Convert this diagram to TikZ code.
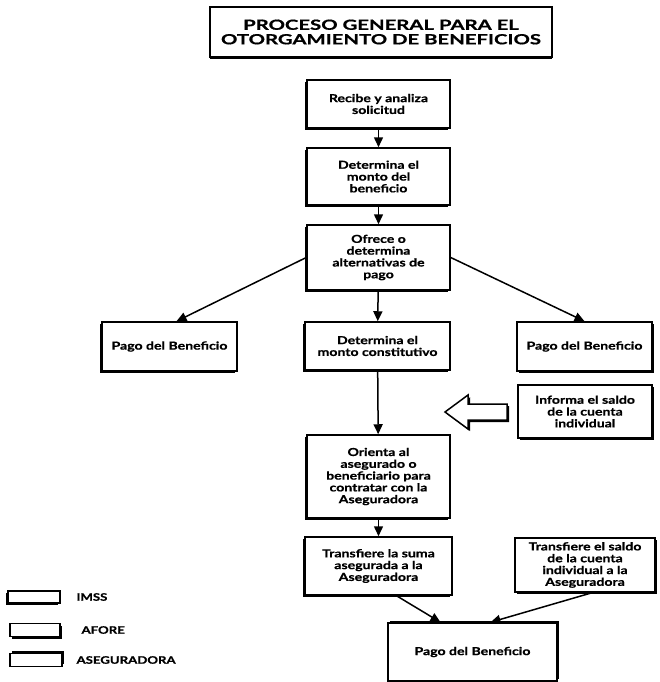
\documentclass[tikz,border=0pt]{standalone}
\usepackage{fontspec}
\setmainfont{Lato}
\newfontfamily\boxfont{Lato}[FakeStretch=1.28, FakeBold=0.8]
\newfontfamily\titlefont{Lato}[FakeStretch=1.45, FakeBold=0.8]
\usetikzlibrary{arrows.meta,shadows,calc}
\begin{document}
\begin{tikzpicture}[x=1pt,y=-1pt,
  box/.style={draw, line width=1.5pt, fill=white, align=center, inner sep=1pt,
    font=\boxfont\bfseries\fontsize{11}{11.8}\selectfont},
  imss/.style={box, drop shadow={shadow xshift=-2.4pt, shadow yshift=-2.4pt, opacity=1, fill=black}},
  afore/.style={box, drop shadow={shadow xshift=2.4pt, shadow yshift=-2.4pt, opacity=1, fill=black}},
  aseg/.style={box, drop shadow={shadow xshift=2.4pt, shadow yshift=2.4pt, opacity=1, fill=black}},
  arr/.style={-{Triangle[length=10pt,width=9pt]}, line width=1.5pt},
  legtext/.style={anchor=west, font=\boxfont\bfseries\fontsize{10.3}{10.3}\selectfont},
]
\useasboundingbox (0,0) rectangle (660,682);

% title
\node[draw, line width=1.7pt, fill=white, align=center, minimum width=342pt, minimum height=50pt,
  inner sep=0pt, font=\titlefont\bfseries\fontsize{14}{14.5}\selectfont,
  drop shadow={shadow xshift=0pt, shadow yshift=-2pt, opacity=1, fill=black}]
  (title) at (381,32) {PROCESO GENERAL PARA EL\\OTORGAMIENTO DE BENEFICIOS};

% main column
\node[imss, minimum width=143pt, minimum height=48pt] (recibe) at (378.5,104) {Recibe y analiza\\solicitud};
\node[imss, minimum width=143pt, minimum height=57pt] (determina) at (378.5,176.5) {Determina el\\monto del\\beneficio};
\node[imss, minimum width=143pt, minimum height=65pt] (ofrece) at (378.5,257.5) {Ofrece o\\determina\\alternativas de\\pago};
\node[imss, minimum width=135pt, minimum height=49pt] (pagoL) at (169.5,346.5) {Pago del Beneficio};
\node[imss, minimum width=145pt, minimum height=48pt] (constit) at (377.5,346) {Determina el\\monto constitutivo};
\node[afore, minimum width=135pt, minimum height=49pt] (pagoR) at (584.5,346.5) {Pago del Beneficio};
\node[afore, minimum width=134pt, minimum height=53pt] (informa) at (585,411.5) {Informa el saldo\\de la cuenta\\individual};
\node[imss, minimum width=143pt, minimum height=83pt] (orienta) at (378.5,476.5) {Orienta al\\asegurado o\\beneficiario para\\contratar con la\\Aseguradora};
\node[imss, minimum width=147pt, minimum height=58pt] (transA) at (378.5,566) {Transfiere la suma\\asegurada a la\\Aseguradora};
\node[afore, minimum width=140pt, minimum height=54pt] (transB) at (585,565) {Transfiere el saldo\\de la cuenta\\individual a la\\Aseguradora};
\node[aseg, minimum width=169pt, minimum height=58pt] (pagoB) at (472.5,652) {Pago del Beneficio};

% block arrow
\draw[line width=1.5pt, fill=white, drop shadow={shadow xshift=2.2pt, shadow yshift=-2.2pt, opacity=1, fill=black}]
  (445,412) -- (468,395) -- (468,404) -- (507,404) -- (507,420) -- (468,420) -- (468,429) -- cycle;

% connectors
\draw[arr] (recibe) -- (determina);
\draw[arr] (determina) -- (ofrece);
\draw[arr] (ofrece.west) -- ($(pagoL.north)+(7,0)$);
\draw[arr] (ofrece.east) -- (pagoR.north);
\draw[arr] (ofrece) -- (constit);
\draw[arr] (constit) -- (orienta);
\draw[arr] (orienta) -- (transA);
\draw[arr] ($(transA.south)+(18,0)$) -- ($(pagoB.north)+(-32,0)$);
\draw[arr] ($(transB.south)+(7,0)$) -- ($(pagoB.north)+(18,0)$);

% legend
\node[imss, minimum width=52pt, minimum height=12pt, inner sep=0pt] (limss) at (34,597) {};
\node[afore, minimum width=50pt, minimum height=13pt, inner sep=0pt] (lafore) at (35,630) {};
\node[aseg, minimum width=52pt, minimum height=13pt, inner sep=0pt] (laseg) at (36,660) {};
\node[legtext] (timss) at (73,597) {IMSS};
\node[legtext] (tafore) at (78,630) {AFORE};
\node[legtext] (taseg) at (73,660) {ASEGURADORA};
\end{tikzpicture}
\end{document}
